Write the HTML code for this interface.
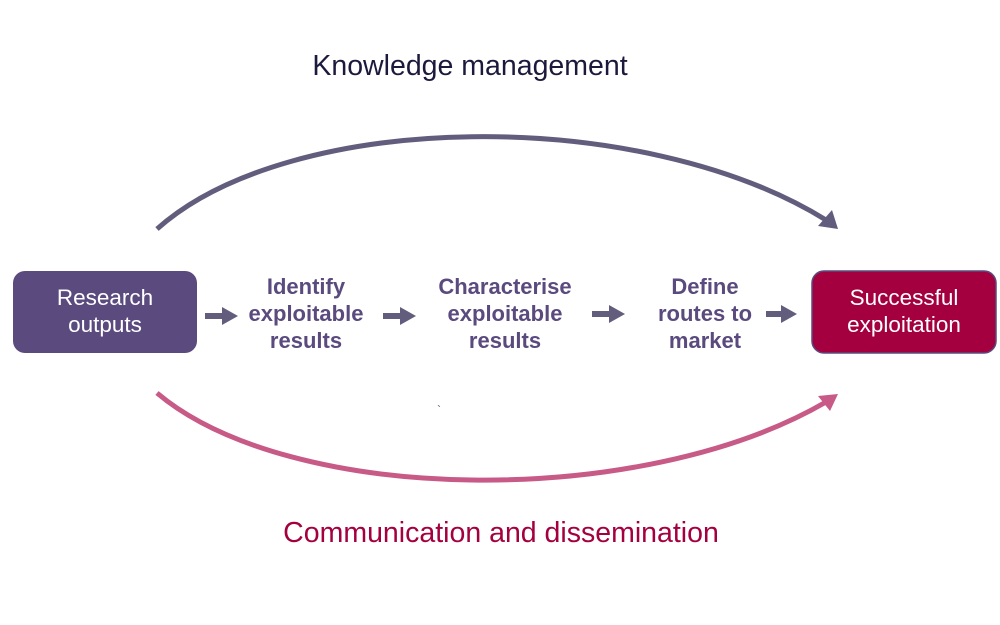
<!DOCTYPE html>
<html><head><meta charset="utf-8"><style>
html,body{margin:0;padding:0;background:#fff;width:1000px;height:625px;overflow:hidden}
svg{display:block}
text{font-family:"Liberation Sans",sans-serif}
</style></head><body>
<svg width="1000" height="625" viewBox="0 0 1000 625">
<text x="470" y="75" text-anchor="middle" font-size="28.5" fill="#1c1a3c">Knowledge management</text>
<path d="M157,229 C290,110 640,105 826,220" fill="none" stroke="#625d7d" stroke-width="5"/>
<polygon points="838,229 818,226 832,210" fill="#625d7d"/>
<path d="M157,393 C290,505 640,510 826,402" fill="none" stroke="#c75a86" stroke-width="5"/>
<polygon points="838,394 818,396 830,411" fill="#c75a86"/>
<text x="437" y="414" font-size="12" fill="#5a4a7e">`</text>
<rect x="13" y="271" width="184" height="82" rx="12" fill="#5a4a7e"/>
<text x="105" y="305" text-anchor="middle" font-size="22.5" fill="#fff">Research</text>
<text x="105" y="332" text-anchor="middle" font-size="22.5" fill="#fff">outputs</text>
<rect x="812" y="271" width="184" height="82" rx="12" fill="#a4003f" stroke="#5a4a7e" stroke-width="1.5"/>
<text x="904" y="305" text-anchor="middle" font-size="22.5" fill="#fff">Successful</text>
<text x="904" y="332" text-anchor="middle" font-size="22.5" fill="#fff">exploitation</text>
<g font-size="22" font-weight="bold" fill="#5a4a7e" text-anchor="middle">
<text x="306" y="294">Identify</text><text x="306" y="321">exploitable</text><text x="306" y="348">results</text>
<text x="505" y="294">Characterise</text><text x="505" y="321">exploitable</text><text x="505" y="348">results</text>
<text x="705" y="294">Define</text><text x="705" y="321">routes to</text><text x="705" y="348">market</text>
</g>
<g fill="#625d7d">
<rect x="205" y="313" width="20" height="6"/><polygon points="222,307 238,316 222,325"/>
<rect x="383" y="313" width="20" height="6"/><polygon points="400,307 416,316 400,325"/>
<rect x="592" y="311" width="20" height="6"/><polygon points="609,305 625,314 609,323"/>
<rect x="766" y="311" width="18" height="6"/><polygon points="781,305 797,314 781,323"/>
</g>
<text x="501" y="542" text-anchor="middle" font-size="28.5" fill="#a4003f">Communication and dissemination</text>
</svg>
</body></html>
